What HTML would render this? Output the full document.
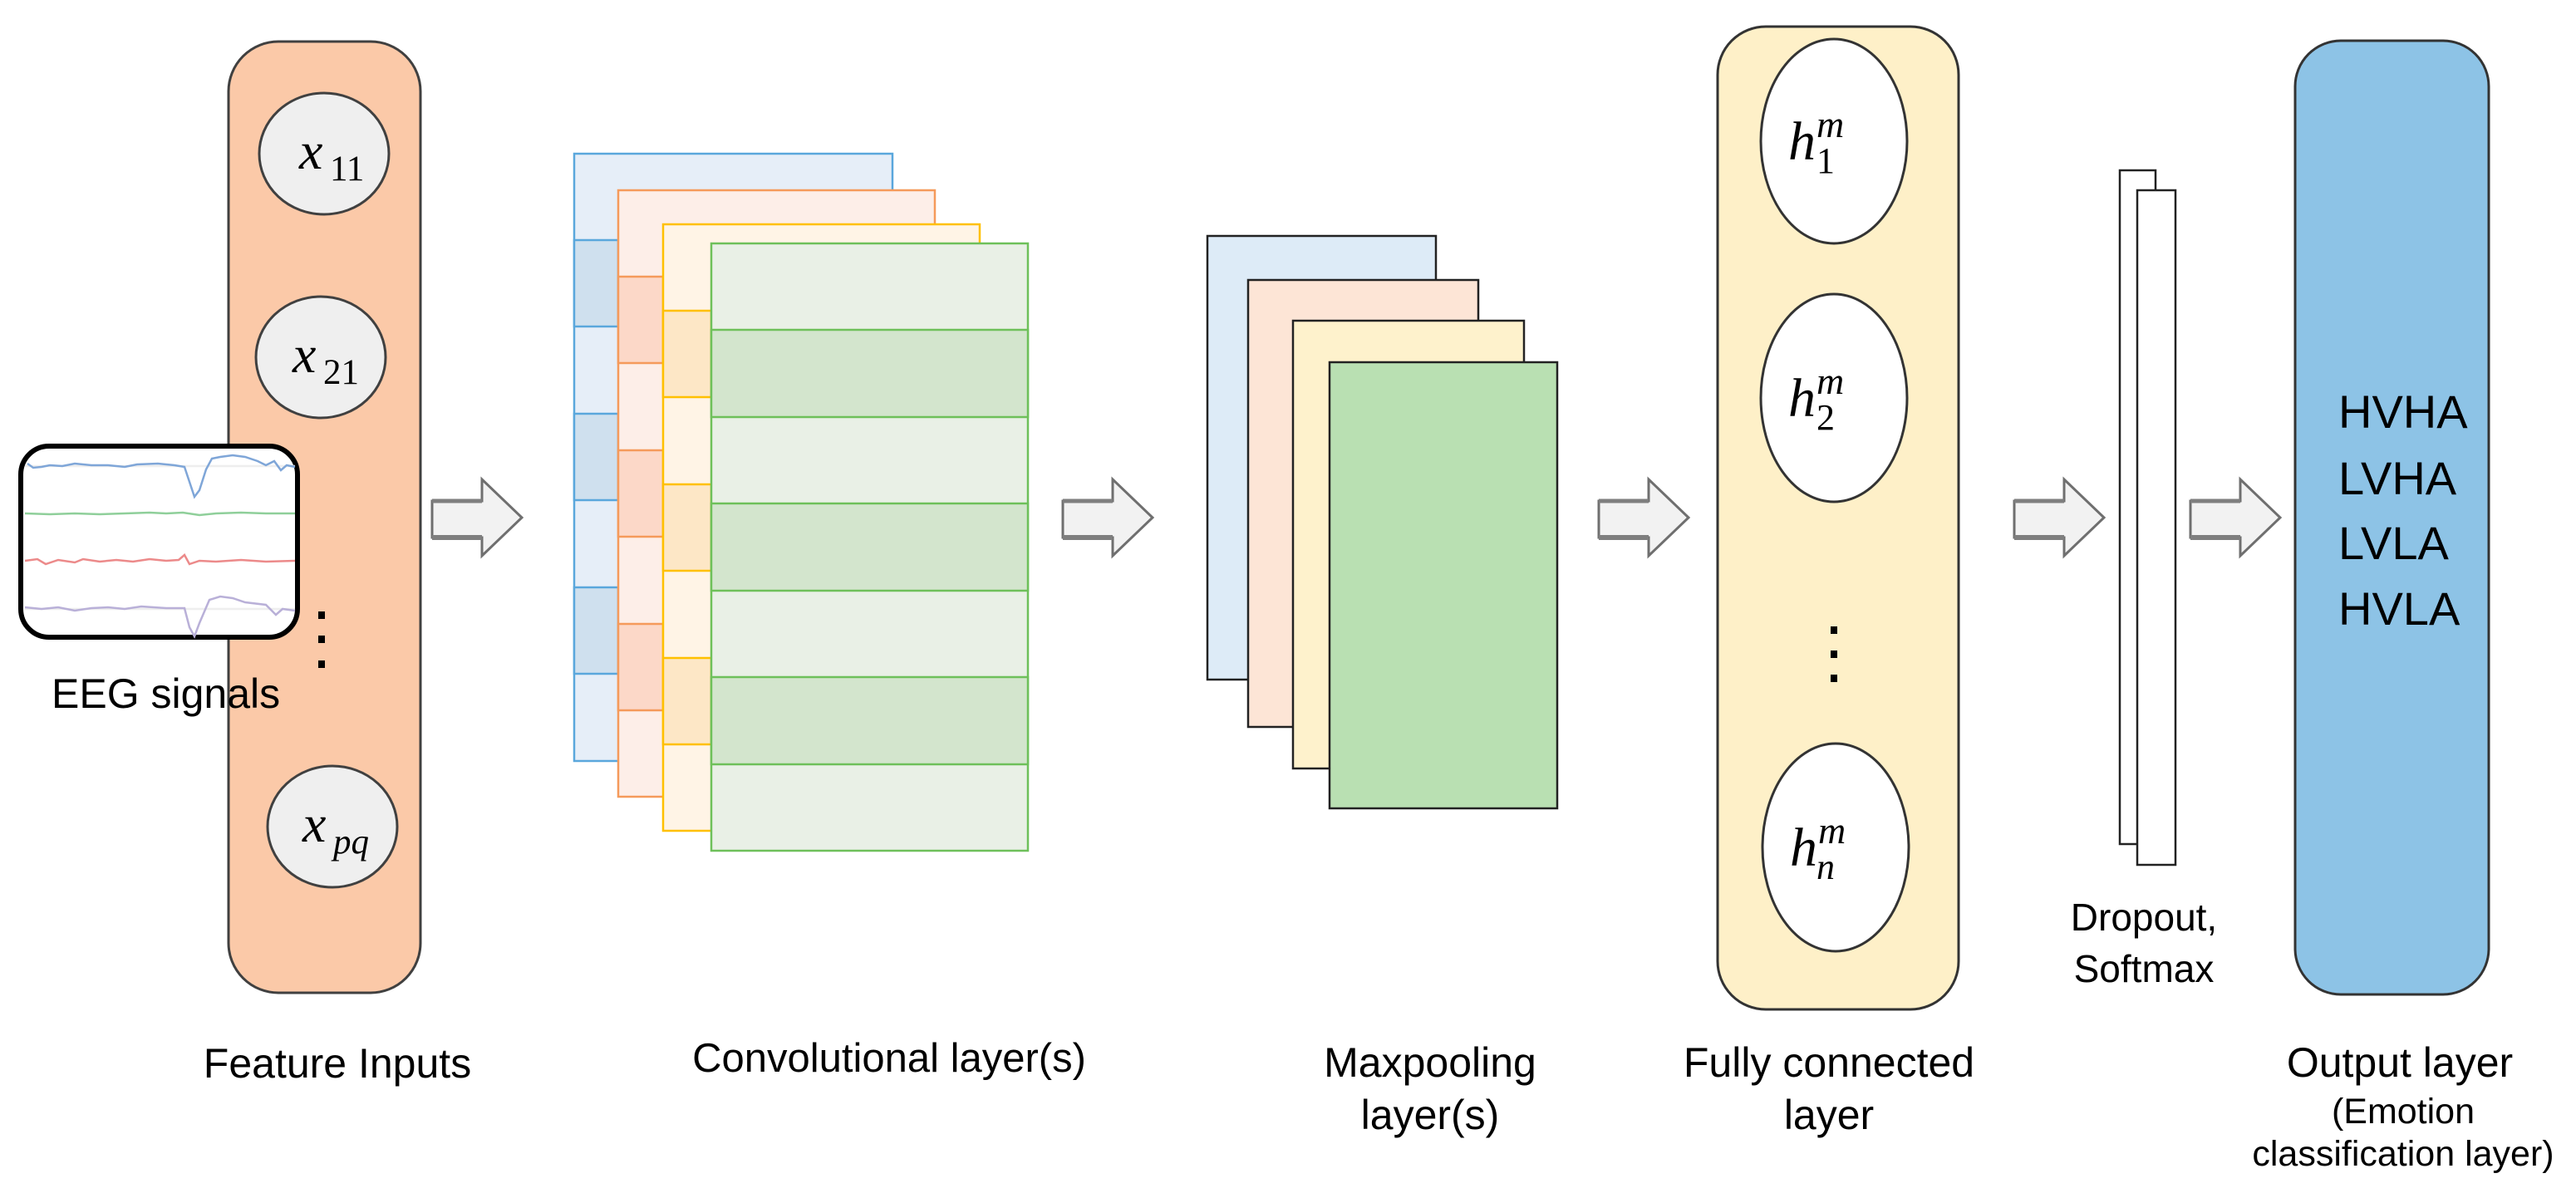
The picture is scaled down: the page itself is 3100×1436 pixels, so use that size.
<!DOCTYPE html>
<html><head><meta charset="utf-8"><style>
html,body{margin:0;padding:0;background:#fff;}
svg{display:block;}
text{font-family:"Liberation Sans",sans-serif;fill:#000;}
.m{font-family:"Liberation Serif",serif;}
</style></head><body>
<svg width="3100" height="1436" viewBox="0 0 3100 1436" xmlns="http://www.w3.org/2000/svg">
<defs>
<g id="arr">
<polygon points="2,26 62,26 62,0 110,46 62,92 62,70 2,70" fill="#f2f2f2" stroke="#6f6f6f" stroke-width="3"/>
<line x1="2" y1="70" x2="62" y2="70" stroke="#7f7f7f" stroke-width="6"/>
<line x1="2" y1="26" x2="62" y2="26" stroke="#7f7f7f" stroke-width="5"/>
</g>
</defs>

<!-- Feature inputs -->
<rect x="275" y="50" width="231" height="1145" rx="60" ry="60" fill="#fbc9a8" stroke="#404040" stroke-width="3"/>
<ellipse cx="390" cy="185" rx="78" ry="73" fill="#efefef" stroke="#404040" stroke-width="3"/>
<ellipse cx="386" cy="430" rx="78" ry="73" fill="#efefef" stroke="#404040" stroke-width="3"/>
<ellipse cx="400" cy="995" rx="78" ry="73" fill="#efefef" stroke="#404040" stroke-width="3"/>
<text class="m" x="360" y="203" font-size="64" font-style="italic">x</text><text class="m" x="397" y="217" font-size="43">11</text>
<text class="m" x="352" y="448" font-size="64" font-style="italic">x</text><text class="m" x="389" y="462" font-size="43">21</text>
<text class="m" x="364" y="1013" font-size="64" font-style="italic">x</text><text class="m" x="401" y="1027" font-size="43" font-style="italic">pq</text>
<rect x="383" y="736" width="8" height="9" fill="#000"/>
<rect x="383" y="765" width="8" height="9" fill="#000"/>
<rect x="383" y="795" width="8" height="9" fill="#000"/>

<!-- EEG box -->
<rect x="25" y="537" width="333" height="230" rx="34" ry="34" fill="#fff" stroke="#000" stroke-width="6"/>
<g fill="none" stroke-width="2.5">
<line x1="30" y1="561" x2="355" y2="561" stroke="#eee"/>
<line x1="30" y1="733" x2="355" y2="733" stroke="#eee"/>
<polyline stroke="#7fa6d8" points="33,558 40,563 50,562 60,560 75,561 90,558 110,560 130,560 150,562 165,559 190,558 210,560 222,562 228,580 234,598 240,590 248,565 255,552 265,550 280,548 295,550 310,555 320,560 330,555 338,566 345,560 355,562"/>
<polyline stroke="#8fcf9a" points="30,618 60,619 90,618 120,619 150,618 180,617 200,618 220,617 240,620 260,618 290,617 320,618 355,618"/>
<polyline stroke="#ec8a8a" points="30,675 45,673 55,679 70,674 90,677 100,673 120,676 140,674 160,676 180,673 200,675 215,674 222,668 228,679 240,675 260,676 290,674 320,676 355,675"/>
<polyline stroke="#b9b0d8" points="30,731 50,733 70,731 90,735 110,732 130,731 150,733 170,730 200,732 222,732 228,755 234,766 240,750 252,722 265,718 280,720 295,725 320,728 332,740 340,733 355,735"/>
</g>
<text x="62" y="852" font-size="50">EEG signals</text>

<use href="#arr" x="518" y="577"/>

<!-- Conv layers -->
<g stroke-width="2.5">
<rect x="691" y="185" width="383" height="731" fill="#e6eef8" stroke="#5aa7dc"/>
<rect x="691" y="289" width="53" height="104" fill="#cfe0ee" stroke="#5aa7dc"/>
<rect x="691" y="498" width="53" height="104" fill="#cfe0ee" stroke="#5aa7dc"/>
<rect x="691" y="707" width="53" height="104" fill="#cfe0ee" stroke="#5aa7dc"/>
<rect x="744" y="229" width="381" height="730" fill="#fdeee8" stroke="#f59a5b"/>
<rect x="744" y="333" width="54" height="104" fill="#fcd8c8" stroke="#f59a5b"/>
<rect x="744" y="542" width="54" height="104" fill="#fcd8c8" stroke="#f59a5b"/>
<rect x="744" y="751" width="54" height="104" fill="#fcd8c8" stroke="#f59a5b"/>
<rect x="798" y="270" width="381" height="730" fill="#fff4e6" stroke="#ffc000"/>
<rect x="798" y="374" width="58" height="104" fill="#fde7c6" stroke="#ffc000"/>
<rect x="798" y="583" width="58" height="104" fill="#fde7c6" stroke="#ffc000"/>
<rect x="798" y="792" width="58" height="104" fill="#fde7c6" stroke="#ffc000"/>
<rect x="856" y="293" width="381" height="731" fill="#e9f0e6" stroke="#6ec05a"/>
<rect x="856" y="397" width="381" height="105" fill="#d3e5cd" stroke="#6ec05a"/>
<rect x="856" y="606" width="381" height="105" fill="#d3e5cd" stroke="#6ec05a"/>
<rect x="856" y="815" width="381" height="105" fill="#d3e5cd" stroke="#6ec05a"/>
</g>

<use href="#arr" x="1277" y="577"/>

<!-- Maxpool -->
<g stroke="#222" stroke-width="2.5">
<rect x="1453" y="284" width="275" height="534" fill="#ddebf7"/>
<rect x="1502" y="337" width="277" height="538" fill="#fde5d6"/>
<rect x="1556" y="386" width="278" height="539" fill="#fef2cc"/>
<rect x="1600" y="436" width="274" height="537" fill="#b9e0b2"/>
</g>

<use href="#arr" x="1922" y="577"/>

<!-- Fully connected -->
<rect x="2067" y="32" width="290" height="1183" rx="58" ry="58" fill="#fef0c8" stroke="#333" stroke-width="3"/>
<ellipse cx="2207" cy="170" rx="88" ry="123" fill="#fff" stroke="#333" stroke-width="3"/>
<ellipse cx="2207" cy="479" rx="88" ry="125" fill="#fff" stroke="#333" stroke-width="3"/>
<ellipse cx="2209" cy="1020" rx="88" ry="125" fill="#fff" stroke="#333" stroke-width="3"/>
<text class="m" x="2152" y="192" font-size="66" font-style="italic">h</text><text class="m" x="2186" y="165" font-size="46" font-style="italic">m</text><text class="m" x="2186" y="208" font-size="44">1</text>
<text class="m" x="2152" y="501" font-size="66" font-style="italic">h</text><text class="m" x="2186" y="474" font-size="46" font-style="italic">m</text><text class="m" x="2186" y="517" font-size="44">2</text>
<text class="m" x="2154" y="1042" font-size="66" font-style="italic">h</text><text class="m" x="2188" y="1015" font-size="46" font-style="italic">m</text><text class="m" x="2186" y="1058" font-size="44" font-style="italic">n</text>
<rect x="2203" y="754" width="8" height="9" fill="#000"/>
<rect x="2203" y="783" width="8" height="9" fill="#000"/>
<rect x="2203" y="812" width="8" height="9" fill="#000"/>

<use href="#arr" x="2422" y="577"/>

<!-- Dropout -->
<rect x="2551" y="205" width="43" height="811" fill="#fff" stroke="#222" stroke-width="2.5"/>
<rect x="2572" y="229" width="46" height="812" fill="#fff" stroke="#222" stroke-width="2.5"/>
<text x="2580" y="1120" font-size="46" text-anchor="middle">Dropout,</text>
<text x="2580" y="1182" font-size="46" text-anchor="middle">Softmax</text>

<use href="#arr" x="2634" y="577"/>

<!-- Output -->
<rect x="2762" y="49" width="233" height="1148" rx="55" ry="55" fill="#8dc3e6" stroke="#333" stroke-width="3"/>
<text x="2814" y="515" font-size="56">HVHA</text>
<text x="2814" y="595" font-size="56">LVHA</text>
<text x="2814" y="673" font-size="56">LVLA</text>
<text x="2814" y="752" font-size="56">HVLA</text>

<!-- labels -->
<text x="406" y="1297" font-size="50" text-anchor="middle">Feature Inputs</text>
<text x="1070" y="1290" font-size="49" text-anchor="middle">Convolutional layer(s)</text>
<text x="1721" y="1296" font-size="50" text-anchor="middle">Maxpooling</text>
<text x="1721" y="1359" font-size="50" text-anchor="middle">layer(s)</text>
<text x="2201" y="1296" font-size="50" text-anchor="middle">Fully connected</text>
<text x="2201" y="1359" font-size="50" text-anchor="middle">layer</text>
<text x="2888" y="1296" font-size="50" text-anchor="middle">Output layer</text>
<text x="2892" y="1352" font-size="43" text-anchor="middle">(Emotion</text>
<text x="2892" y="1403" font-size="43" text-anchor="middle">classification layer)</text>
</svg>
</body></html>
